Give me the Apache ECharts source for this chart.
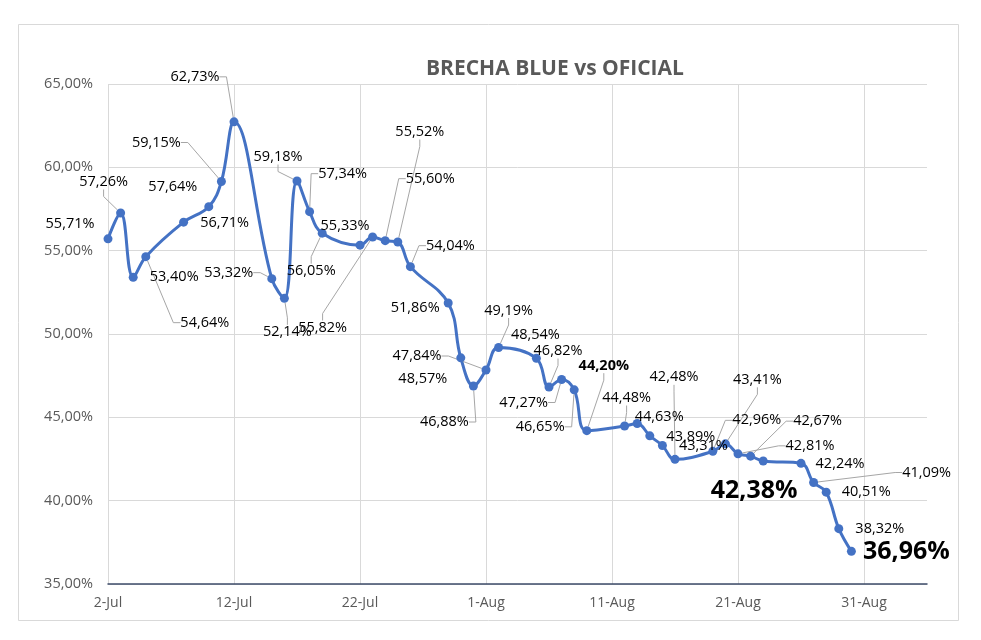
<!DOCTYPE html>
<html><head><meta charset="utf-8">
<script src="https://cdn.jsdelivr.net/npm/echarts@6/dist/echarts.min.js"></script>
<style>html,body{margin:0;padding:0;background:#fff}#c{width:981px;height:640px}</style>
</head><body><div id="c"></div>
<script>
// ---- data ----
const dates = ['2024-07-02','2024-07-03','2024-07-04','2024-07-05','2024-07-08','2024-07-10','2024-07-11','2024-07-12',
  '2024-07-15','2024-07-16','2024-07-17','2024-07-18','2024-07-19','2024-07-22','2024-07-23','2024-07-24','2024-07-25',
  '2024-07-26','2024-07-29','2024-07-30','2024-07-31','2024-08-01','2024-08-02','2024-08-05','2024-08-06','2024-08-07',
  '2024-08-08','2024-08-09','2024-08-12','2024-08-13','2024-08-14','2024-08-15','2024-08-16','2024-08-19','2024-08-20',
  '2024-08-21','2024-08-22','2024-08-23','2024-08-26','2024-08-27','2024-08-28','2024-08-29','2024-08-30'];
const brecha = [55.71,57.26,53.40,54.64,56.71,57.64,59.15,62.73,
  53.32,52.14,59.18,57.34,56.05,55.33,55.82,55.60,55.52,
  54.04,51.86,48.57,46.88,47.84,49.19,48.54,46.82,47.27,
  46.65,44.20,44.48,44.63,43.89,43.31,42.48,42.96,43.41,
  42.81,42.67,42.38,42.24,41.09,40.51,38.32,36.96];
const xTickLabels = ['2-Jul','12-Jul','22-Jul','1-Aug','11-Aug','21-Aug','31-Aug'];
const startDate = '2024-07-02';
const title = 'BRECHA BLUE vs OFICIAL';

// ---- label placement (style only) ----
const labelOffsets = [[-38,-15],[-17,-31],[41,0],[59,66],[41,1],[-36,-20],[-65,-39],[-39,-45],
  [-43,-6],[3,34],[-19,-24],[33,-38],[-11,38],[-15,-19],[-50,91],[45,-62],[22,-110],
  [40,-21],[-33,5],[-38,21],[-29,36],[-69,-14],[10,-37],[-1,-23],[9,-36],[-38,23],
  [-34,37],[17,-65],[2,-28],[22,-7],[41,1],[41,0],[-1,-82],[44,-31],[32,-64],
  [72,-8],[67,-35],[-9,30],[39,1],[113,-10],[40,0],[41,0],[55,1]];
const leader = [0,1,0,1,0,0,1,1, 1,1,1,1,1,0,1,1,1, 1,0,0,1,1,1,0,1,1, 1,1,1,0,0,0,1,1,1, 1,1,0,0,1,0,0,0];
const boldIdx = [27];
const bigIdx = [37, 42];

const DAY = 86400000;
const t0 = Date.parse(startDate);
const dayNum = d => Math.round((Date.parse(d) - t0) / DAY);
const fmt = v => v.toFixed(2).replace('.', ',') + '%';

const seriesData = dates.map((d, i) => {
  const item = { value: [dayNum(d), brecha[i]], labelLine: { show: !!leader[i] } };
  if (bigIdx.includes(i)) item.label = { fontSize: 25, fontWeight: 'bold' };
  else if (boldIdx.includes(i)) item.label = { fontWeight: 'bold' };
  return item;
});

const chart = echarts.init(document.getElementById('c'), null, { renderer: 'canvas' });
chart.setOption({
  backgroundColor: '#fff',
  animation: false,
  title: {
    text: title, left: 421, top: 54,
    textStyle: { fontFamily: 'Open Sans', fontWeight: 'bold', fontSize: 21, color: '#595959' }
  },
  graphic: [{
    type: 'rect', shape: { x: 18.5, y: 24.5, width: 940, height: 596 },
    style: { fill: 'none', stroke: '#D9D9D9', lineWidth: 1 }, silent: true, z: -1
  }],
  grid: { left: 108, right: 54, top: 84, bottom: 56 },
  xAxis: {
    type: 'value', min: 0, max: 65, interval: 10,
    axisLine: { show: true, lineStyle: { color: '#3E4C6A', width: 1.5 } },
    axisTick: { show: false },
    axisLabel: {
      margin: 12, fontFamily: 'Open Sans', fontSize: 14, color: '#595959',
      formatter: v => (v % 10 === 0 ? (xTickLabels[v / 10] || '') : '')
    },
    splitLine: { show: true, showMaxLine: false, lineStyle: { color: '#D9D9D9', width: 1 } }
  },
  yAxis: {
    type: 'value', min: 35, max: 65, interval: 5,
    axisLine: { show: false }, axisTick: { show: false },
    axisLabel: { margin: 15, fontFamily: 'Open Sans', fontSize: 14.5, color: '#595959',
      formatter: v => v.toFixed(2).replace('.', ',') + '%' },
    splitLine: { show: true, lineStyle: { color: '#D9D9D9', width: 1 } }
  },
  series: [{
    type: 'line',
    data: seriesData,
    smooth: 0.4,
    symbol: 'circle', symbolSize: 9, showSymbol: true, showAllSymbol: true,
    lineStyle: { color: '#4472C4', width: 3 },
    itemStyle: { color: '#4472C4' },
    label: {
      show: true, fontFamily: 'Open Sans', fontSize: 14.5, color: '#000',
      formatter: p => fmt(p.value[1])
    },
    labelLine: { show: true, length2: 7, lineStyle: { color: '#A6A6A6', width: 1 } },
    labelLayout: function (params) {
      const o = labelOffsets[params.dataIndex];
      const r = params.rect;
      return { x: r.x + r.width / 2 + o[0], y: r.y + r.height / 2 + o[1], align: 'center', verticalAlign: 'middle' };
    }
  }]
});
</script></body></html>
